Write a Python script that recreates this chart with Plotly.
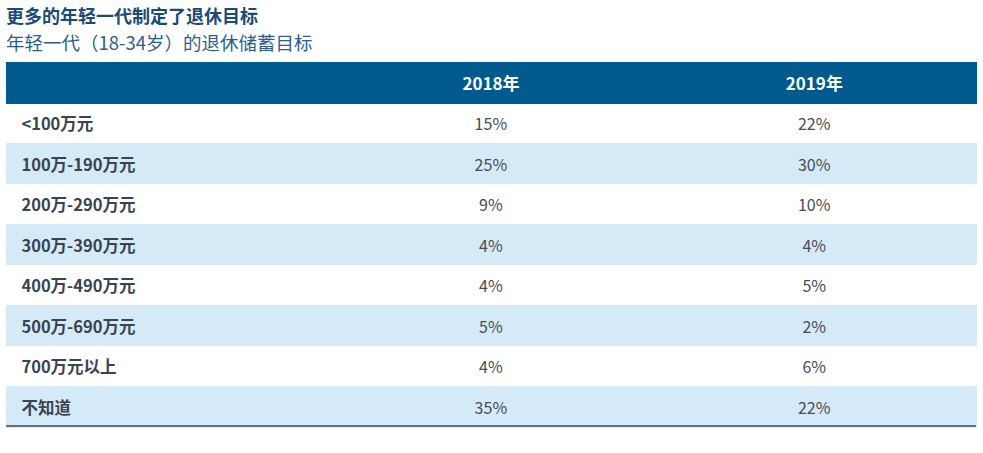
import plotly.graph_objects as go

title = "更多的年轻一代制定了退休目标"
subtitle = "年轻一代（18-34岁）的退休储蓄目标"
col_headers = ["", "2018年", "2019年"]
categories = ["<100万元", "100万-190万元", "200万-290万元", "300万-390万元",
              "400万-490万元", "500万-690万元", "700万元以上", "不知道"]
values_2018 = [15, 25, 9, 4, 4, 5, 4, 35]
values_2019 = [22, 30, 10, 4, 5, 2, 6, 22]

W, H = 983, 453
FONT = "Noto Sans CJK SC"
row_colors = ["#ffffff" if i % 2 == 0 else "#d4ebf7" for i in range(len(categories))]

label_cells = ["\u00a0\u00a0<b>" + c.replace("<", "&lt;") + "</b>" for c in categories]
cells_2018 = [f"<span>{v}%</span>" for v in values_2018]
cells_2019 = [f"<span>{v}%</span>" for v in values_2019]

fig = go.Figure(go.Table(
    domain=dict(x=[6 / W, 976 / W], y=[1 - 428 / H, 1 - 62 / H]),
    columnwidth=[1, 1, 1],
    header=dict(
        values=[f"<b>{h}</b>" for h in col_headers],
        fill_color="#005a8e",
        line=dict(color="#005a8e", width=1),
        font=dict(family=FONT, size=17, color="#ffffff"),
        align=["left", "center", "center"],
        height=40,
    ),
    cells=dict(
        values=[label_cells, cells_2018, cells_2019],
        fill_color=[row_colors] * 3,
        line=dict(color=[row_colors] * 3, width=1),
        font=dict(family=FONT, size=[16.5, 16, 16], color=["#3b4252", "#4a4a52", "#4a4a52"]),
        align=["left", "center", "center"],
        height=40.5,
    ),
))

fig.add_shape(type="line", xref="paper", yref="paper",
              x0=6 / W, x1=976 / W, y0=1 - 426 / H, y1=1 - 426 / H,
              line=dict(color="#3d4a5c", width=1.5))

fig.add_annotation(text=f"<b>{title}</b>", xref="paper", yref="paper",
                   x=4 / W, y=1 - 15 / H, xanchor="left", yanchor="middle",
                   showarrow=False, font=dict(family=FONT, size=18, color="#1a4a7a"))
fig.add_annotation(text=subtitle, xref="paper", yref="paper",
                   x=4 / W, y=1 - 42 / H, xanchor="left", yanchor="middle",
                   showarrow=False, font=dict(family=FONT, size=18.5, color="#2d5e8e"))

fig.update_layout(width=W, height=H, margin=dict(l=0, r=0, t=0, b=0),
                  paper_bgcolor="#ffffff", plot_bgcolor="#ffffff")

fig.write_html("out.html", config={"displayModeBar": False},
               post_script="document.body.style.margin='0';")
